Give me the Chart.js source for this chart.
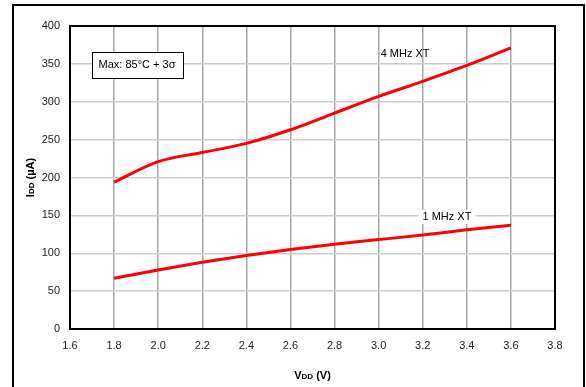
<!DOCTYPE html>
<html lang="en">
<head>
    <meta charset="UTF-8">
    <title>IDD vs VDD</title>
    <script src="https://cdn.jsdelivr.net/npm/chart.js"></script>
    <style>
        body {
            margin: 0;
            padding: 0;
            background: #fff;
            overflow: hidden;
        }

        canvas {
            display: block;
        }
    </style>
</head>
<body>

    <canvas id="iddChart" width="586" height="387"></canvas>

    <script>
        // Supply voltage points (V)
        const vdd = [1.8, 2.0, 2.2, 2.4, 2.6, 2.8, 3.0, 3.2, 3.4, 3.6];
        // Current at each voltage (uA)
        const idd4MHz = [194, 221, 233, 245, 263, 285, 307, 327, 348, 371];
        const idd1MHz = [67, 78, 88, 97, 105, 112, 118, 124, 131, 137];
        // Axis ranges
        const xTicks = [1.6, 1.8, 2.0, 2.2, 2.4, 2.6, 2.8, 3.0, 3.2, 3.4, 3.6, 3.8];
        const yTicks = [0, 50, 100, 150, 200, 250, 300, 350, 400];

        const font = '"Liberation Sans", Arial, sans-serif';

        // Frame, plot border, axis titles and the text labels
        const decorations = {
            id: 'decorations',
            afterDraw(chart) {
                const ctx = chart.ctx;
                const a = chart.chartArea;
                const x = chart.scales.x;
                const y = chart.scales.y;
                ctx.save();

                // outer frame
                ctx.strokeStyle = '#000';
                ctx.lineWidth = 2;
                ctx.strokeRect(13, 5, 571, 400);

                // plot border
                ctx.strokeRect(a.left, a.top, a.right - a.left, a.bottom - a.top);

                ctx.fillStyle = '#000';
                ctx.textBaseline = 'middle';

                // y title: I DD (uA)
                ctx.save();
                ctx.translate(31, (a.top + a.bottom) / 2);
                ctx.rotate(-Math.PI / 2);
                drawSub(ctx, 'I', 'DD', ' (µA)', 0, 0);
                ctx.restore();

                // x title: V DD (V)
                drawSub(ctx, 'V', 'DD', ' (V)', (a.left + a.right) / 2, 376);

                // curve labels
                ctx.font = '11px ' + font;
                ctx.textAlign = 'center';
                ctx.fillText('4 MHz XT', x.getPixelForValue(3.12), y.getPixelForValue(363));

                const lx = x.getPixelForValue(3.31);
                const ly = y.getPixelForValue(148);
                const lw = ctx.measureText('1 MHz XT').width;
                ctx.fillStyle = '#fff';
                ctx.fillRect(lx - lw / 2 - 4, ly - 7, lw + 8, 14);
                ctx.fillStyle = '#000';
                ctx.fillText('1 MHz XT', lx, ly);

                // conditions box
                const bx = x.getPixelForValue(1.904);
                const by = y.getPixelForValue(348.5);
                ctx.fillStyle = '#fff';
                ctx.fillRect(bx - 45, by - 13, 91, 26);
                ctx.lineWidth = 1;
                ctx.strokeRect(Math.round(bx - 45) + 0.5, Math.round(by - 13) + 0.5, 91, 26);
                ctx.fillStyle = '#000';
                ctx.fillText('Max: 85°C + 3σ', bx, by);

                ctx.restore();
            }
        };

        // draws "I" + small "DD" + rest, centred at (cx, cy)
        function drawSub(ctx, main, sub, rest, cx, cy) {
            const big = 'bold 11px ' + font;
            const small = 'bold 8px ' + font;
            ctx.font = big;
            const w1 = ctx.measureText(main).width;
            const w3 = ctx.measureText(rest).width;
            ctx.font = small;
            const w2 = ctx.measureText(sub).width;
            let px = cx - (w1 + w2 + w3) / 2;
            ctx.textAlign = 'left';
            ctx.font = big;
            ctx.fillText(main, px, cy);
            px += w1;
            ctx.font = small;
            ctx.fillText(sub, px, cy + 1);
            px += w2;
            ctx.font = big;
            ctx.fillText(rest, px, cy);
        }

        const ctxIdd = document.getElementById('iddChart').getContext('2d');

        const iddChart = new Chart(ctxIdd, {
            type: 'line',
            data: {
                datasets: [{
                    label: '4 MHz XT',
                    data: vdd.map((v, i) => ({ x: v, y: idd4MHz[i] })),
                    borderColor: '#ff0000',
                    borderWidth: 3,
                    pointRadius: 0,
                    cubicInterpolationMode: 'monotone',
                    fill: false
                }, {
                    label: '1 MHz XT',
                    data: vdd.map((v, i) => ({ x: v, y: idd1MHz[i] })),
                    borderColor: '#ff0000',
                    borderWidth: 3,
                    pointRadius: 0,
                    cubicInterpolationMode: 'monotone',
                    fill: false
                }]
            },
            options: {
                responsive: false,
                animation: false,
                devicePixelRatio: 1,
                layout: {
                    padding: { left: 14, top: 26, right: 31, bottom: 0 }
                },
                plugins: {
                    legend: { display: false },
                    tooltip: { enabled: false }
                },
                scales: {
                    x: {
                        type: 'linear',
                        min: xTicks[0],
                        max: xTicks[xTicks.length - 1],
                        afterBuildTicks: (scale) => {
                            scale.ticks = xTicks.map(v => ({ value: v }));
                        },
                        afterFit: (scale) => { scale.height = 58; },
                        grid: { color: '#a8a8a8', lineWidth: 1.5, drawTicks: false },
                        border: { display: false },
                        ticks: {
                            color: '#222',
                            padding: 10,
                            maxRotation: 0,
                            autoSkip: false,
                            font: { family: font, size: 11 },
                            callback: (v) => Number(v).toFixed(1)
                        }
                    },
                    y: {
                        min: yTicks[0],
                        max: yTicks[yTicks.length - 1],
                        afterBuildTicks: (scale) => {
                            scale.ticks = yTicks.map(v => ({ value: v }));
                        },
                        afterFit: (scale) => { scale.width = 56; },
                        grid: { color: '#cccccc', lineWidth: 1.5, drawTicks: false },
                        border: { display: false },
                        ticks: {
                            color: '#222',
                            padding: 10,
                            font: { family: font, size: 11 }
                        }
                    }
                }
            },
            plugins: [decorations]
        });
    </script>
</body>
</html>
